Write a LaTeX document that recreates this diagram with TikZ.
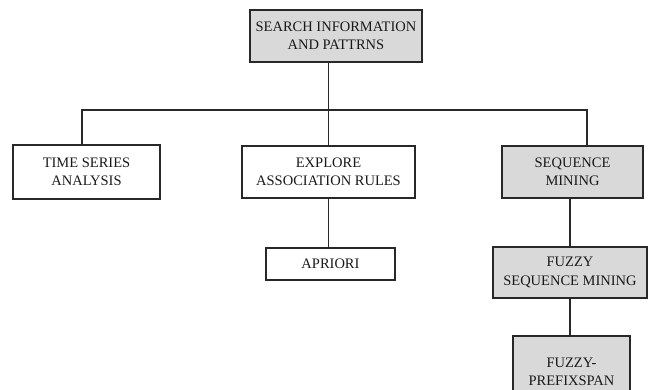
\documentclass[tikz,border=0pt]{standalone}
\usepackage{fontspec}
\setmainfont{Liberation Serif}
\definecolor{boxgrey}{RGB}{217,217,217}
\definecolor{linegrey}{RGB}{40,40,40}
\tikzset{
	box/.style={draw=linegrey, line width=1.3pt, align=center, inner sep=0pt, text=black!90, font=\fontsize{14.5}{18.5}\selectfont},
	shaded/.style={box, fill=boxgrey},
	link/.style={draw=linegrey, line width=1.3pt}
}
\begin{document}
\begin{tikzpicture}[x=1pt,y=-1pt]
	\clip (0,0) rectangle (649,390);

	\node[shaded, minimum width=172pt, minimum height=52pt] (search) at (336,36) {SEARCH INFORMATION\\AND PATTRNS};
	\node[box, minimum width=147pt, minimum height=54pt] (ts) at (86.5,172) {TIME SERIES\\ANALYSIS};
	\node[box, minimum width=173pt, minimum height=52pt] (ex) at (328.5,172) {EXPLORE\\ASSOCIATION RULES};
	\node[shaded, minimum width=141pt, minimum height=52pt] (seq) at (572.5,172) {SEQUENCE\\MINING};
	\node[box, minimum width=129pt, minimum height=32pt] (apriori) at (330.5,264) {APRIORI};
	\node[shaded, minimum width=154pt, minimum height=51pt] (fsm) at (570,272.5) {FUZZY\\SEQUENCE MINING};
	\node[shaded, minimum width=117pt, minimum height=72pt] (fps) at (571.5,372) {FUZZY-\\PREFIXSPAN};

	\coordinate (bus) at (0,110);
	\coordinate (tsin) at ([xshift=-4.5pt]ts.north);
	\coordinate (seqin) at ([xshift=14.5pt]seq.north);

	\draw[link] (search.south -| ex.north) -- (ex.north);
	\draw[link] (tsin) |- (bus -| seqin) -- (seqin);
	\draw[link] (ex.south) -- (ex.south |- apriori.north);
	\draw[link] (fsm.north |- seq.south) -- (fsm.north);
	\draw[link] (fsm.south) -- (fsm.south |- fps.north);
\end{tikzpicture}
\end{document}
